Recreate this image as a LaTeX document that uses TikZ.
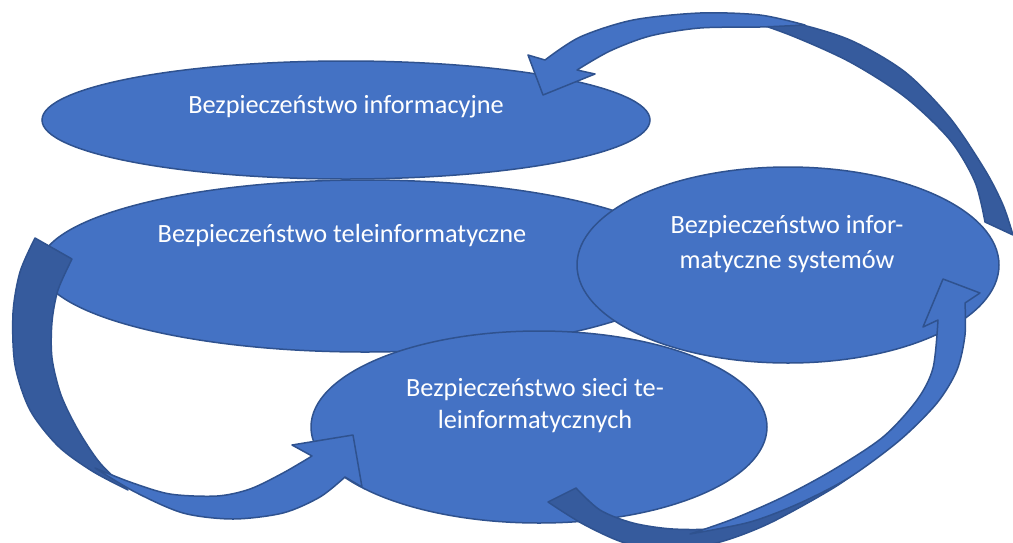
\documentclass[tikz,border=0pt]{standalone}
\usepackage{fontspec}
\usetikzlibrary{shapes.geometric}
\newfontfamily\bodyfont{Carlito}
\definecolor{blueface}{HTML}{4472C4}
\definecolor{blueback}{HTML}{365B9D}
\definecolor{blueedge}{HTML}{2F528F}
\tikzset{
  bubble/.style={ellipse, draw=blueedge, fill=blueface, line width=1.5pt, inner sep=0pt},
  frontface/.style={fill=blueface, draw=blueedge, line width=1.5pt, line join=round},
  backface/.style={fill=blueback, draw=blueedge, line width=1.5pt, line join=round},
  txt/.style={text=white, align=center, anchor=base, inner sep=0pt,
    font=\bodyfont\fontsize{26.3}{33}\selectfont}
}
\begin{document}
\begin{tikzpicture}[x=1pt, y=-1pt]
\useasboundingbox (0,0) rectangle (1013,542);
\clip (0,0) rectangle (1013,542);

% arrow heads and tails
\coordinate (tipA) at (543,95);
\coordinate (tailA) at (1013,235);
\coordinate (tipB) at (353,435);
\coordinate (tailB) at (35,238);
\coordinate (tipC) at (943,279);
\coordinate (tailC) at (548,502);

% top ellipse
\node[bubble, minimum width=608pt, minimum height=118pt] (e1) at (346,120) {};

% curved arrow from the right ellipse back to the top one
\filldraw[backface] plot[smooth] coordinates {(730,14) (790,22) (850,40) (905,72) (950,118) (985,170) (1003,205) (tailA)}
  -- (985,222)
  -- plot[smooth] coordinates {(985,222) (975,182) (950,140) (905,97) (850,62) (790,35) (730,14)} -- cycle;
\filldraw[frontface] plot[smooth] coordinates {(545,60) (580,37) (633,20) (700,13) (760,15) (805,25)}
  -- plot[smooth] coordinates {(805,25) (760,27) (700,28) (650,36) (610,51) (577,70)}
  -- (595,74) -- (tipA) -- (528,55) -- cycle;

% remaining ellipses
\node[bubble, minimum width=650pt, minimum height=172pt] (e2) at (365,266) {};
\node[bubble, minimum width=422pt, minimum height=196pt] (e3) at (788,265) {};
\node[bubble, minimum width=456pt, minimum height=192pt] (e4) at (539,427) {};

% curved arrow on the left, into the bottom ellipse
\filldraw[backface] plot[smooth] coordinates {(tailB) (20,272) (13,313) (15,365) (30,410) (58,446) (92,471) (128,490)}
  -- plot[smooth] coordinates {(128,490) (100,463) (78,430) (61,395) (52,358) (52,322) (58,290) (72,259)} -- cycle;
\filldraw[frontface] plot[smooth] coordinates {(95,468) (135,492) (183,513) (233,519) (283,513) (320,497) (345,477)}
  -- (362,487) -- (tipB) -- (292,445)
  -- plot[smooth] coordinates {(312,456) (283,473) (250,489) (217,496) (170,494) (130,482) (95,468)} -- cycle;

% curved arrow at the bottom right, into the right ellipse
\filldraw[backface] plot[smooth] coordinates {(tailC) (583,524) (625,543) (670,550) (720,542) (770,523) (835,487) (880,455)}
  -- plot[smooth] coordinates {(880,455) (820,490) (760,515) (720,528) (673,529) (633,523) (600,510) (576,488)} -- cycle;
\filldraw[frontface] plot[smooth] coordinates {(965,303) (965,335) (957,370) (937,403) (900,440) (850,477) (800,503) (750,522) (690,534)}
  -- plot[smooth] coordinates {(690,534) (733,519) (783,497) (833,470) (883,437) (917,400) (933,368) (938,320)}
  -- (923,327) -- (tipC) -- (980,293) -- cycle;

% labels (multi-line labels sit on the baseline of their last line)
\node[txt] (t1) at (346,113) {Bezpieczeństwo informacyjne};
\node[txt] (t2) at (342,242) {Bezpieczeństwo teleinformatyczne};
\node[txt, font=\bodyfont\fontsize{26.3}{35}\selectfont] (t3) at (787,268) {Bezpieczeństwo infor-\\matyczne systemów};
\node[txt, font=\bodyfont\fontsize{26.3}{31.6}\selectfont] (t4) at (535,428) {Bezpieczeństwo sieci te-\\leinformatycznych};
\end{tikzpicture}
\end{document}
